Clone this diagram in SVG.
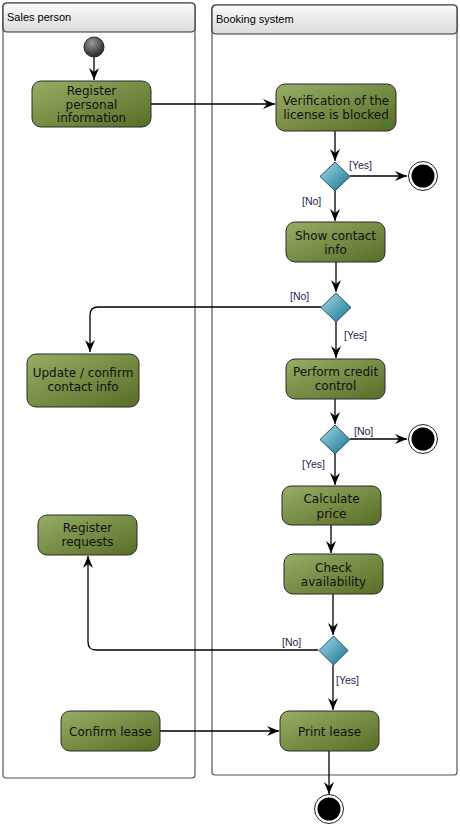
<svg xmlns="http://www.w3.org/2000/svg" width="460" height="826" viewBox="0 0 460 826">
<style>
.lane{fill:#fff;stroke:#555;stroke-width:1.2}
.hdr{fill:url(#hg);stroke:#333;stroke-width:1.2}
.ttl{font-family:"Liberation Sans",Arial,sans-serif;font-size:11px;fill:#000}
.act{fill:url(#ag);stroke:#2a2a2a;stroke-width:1}
.at{font-family:"DejaVu Sans",Verdana,sans-serif;font-size:12px;fill:#111;text-anchor:middle}
.dec{fill:url(#dg);stroke:#1d4f60;stroke-width:1}
.lbl{font-family:"Liberation Sans",Arial,sans-serif;font-size:10.5px;fill:#1c1c50}
.ln{fill:none;stroke:#000;stroke-width:1.3}
</style>
<defs>
<linearGradient id="hg" x1="0" y1="0" x2="0" y2="1"><stop offset="0" stop-color="#fbfbfb"/><stop offset="1" stop-color="#dcdcdc"/></linearGradient>
<linearGradient id="ag" x1="0" y1="0" x2="1" y2="1"><stop offset="0" stop-color="#97ae66"/><stop offset="1" stop-color="#586c26"/></linearGradient>
<linearGradient id="dg" x1="0" y1="0" x2="1" y2="1"><stop offset="0" stop-color="#a4dcea"/><stop offset="1" stop-color="#17718c"/></linearGradient>
<radialGradient id="ig" cx="0.4" cy="0.3" r="0.75"><stop offset="0" stop-color="#9a9a9a"/><stop offset="1" stop-color="#1e1e1e"/></radialGradient>
<marker id="ar" viewBox="0 0 12 10" refX="12" refY="5" markerWidth="12" markerHeight="10" markerUnits="userSpaceOnUse" orient="auto">
<path d="M0,0 L12,5 L0,10 L4,5 Z" fill="#000"/>
</marker>
</defs>

<g id="lane-sales">
<rect class="lane" x="3" y="3" width="192" height="775" rx="3"/>
<rect class="hdr" x="3" y="3" width="192" height="29" rx="4"/>
<text class="ttl" x="7" y="21">Sales person</text>
</g>
<g id="lane-booking">
<rect class="lane" x="212" y="5" width="245" height="770" rx="3"/>
<rect class="hdr" x="212" y="5" width="245" height="29" rx="4"/>
<text class="ttl" x="216" y="23">Booking system</text>
</g>

<g id="connectors">
<path class="ln" d="M94,57 V80" marker-end="url(#ar)"/>
<path class="ln" d="M151,104 H275" marker-end="url(#ar)"/>
<path class="ln" d="M335,131 V161" marker-end="url(#ar)"/>
<path class="ln" d="M350,176 H407" marker-end="url(#ar)"/>
<path class="ln" d="M335,191 V221" marker-end="url(#ar)"/>
<path class="ln" d="M336,262 V292" marker-end="url(#ar)"/>
<path class="ln" d="M321,307 H98 Q90,307 90,315 V352" marker-end="url(#ar)"/>
<path class="ln" d="M336,322 V358" marker-end="url(#ar)"/>
<path class="ln" d="M335,399 V424" marker-end="url(#ar)"/>
<path class="ln" d="M350,439 H407" marker-end="url(#ar)"/>
<path class="ln" d="M335,454 V485" marker-end="url(#ar)"/>
<path class="ln" d="M331,525 V553" marker-end="url(#ar)"/>
<path class="ln" d="M333,594 V635" marker-end="url(#ar)"/>
<path class="ln" d="M318,650 H96 Q88,650 88,642 V556" marker-end="url(#ar)"/>
<path class="ln" d="M333,665 V710" marker-end="url(#ar)"/>
<path class="ln" d="M160,731 H279" marker-end="url(#ar)"/>
<path class="ln" d="M329,751 V794" marker-end="url(#ar)"/>
<text class="lbl" x="349" y="169">[Yes]</text>
<text class="lbl" x="302" y="205">[No]</text>
<text class="lbl" x="290" y="300">[No]</text>
<text class="lbl" x="344" y="339">[Yes]</text>
<text class="lbl" x="354" y="435">[No]</text>
<text class="lbl" x="302" y="468">[Yes]</text>
<text class="lbl" x="282" y="646">[No]</text>
<text class="lbl" x="336" y="684">[Yes]</text>
</g>

<g id="start"><circle cx="94" cy="47" r="10" fill="url(#ig)" stroke="#222" stroke-width="1"/></g>

<g id="register-personal">
<rect class="act" x="32" y="81" width="119" height="46" rx="9"/>
<text class="at" x="91.5" y="95">Register</text>
<text class="at" x="91.5" y="108.5">personal</text>
<text class="at" x="91.5" y="122">information</text>
</g>
<g id="verification">
<rect class="act" x="276" y="84" width="120" height="47" rx="9"/>
<text class="at" x="336" y="104.5">Verification of the</text>
<text class="at" x="336" y="118.5">license is blocked</text>
<path d="M386,117 V127 M382,123 L386,127 L390,123" fill="none" stroke="#1e8a1e" stroke-width="1"/>
</g>
<g id="decision-1"><path class="dec" d="M335,162 L350,176.5 L335,191 L320,176.5 Z"/></g>
<g id="final-1"><circle cx="423" cy="176" r="14.5" fill="#fff" stroke="#222" stroke-width="1"/><circle cx="423" cy="176" r="11.5" fill="#000"/></g>
<g id="show-contact">
<rect class="act" x="286" y="222" width="99" height="40" rx="9"/>
<text class="at" x="335.5" y="240">Show contact</text>
<text class="at" x="335.5" y="254">info</text>
</g>
<g id="decision-2"><path class="dec" d="M336,293 L351,307.5 L336,322 L321,307.5 Z"/></g>
<g id="update-contact">
<rect class="act" x="27" y="354" width="112" height="53" rx="9"/>
<text class="at" x="83" y="377">Update / confirm</text>
<text class="at" x="83" y="391">contact info</text>
</g>
<g id="credit-control">
<rect class="act" x="286" y="359" width="99" height="40" rx="9"/>
<text class="at" x="335.5" y="376">Perform credit</text>
<text class="at" x="335.5" y="390">control</text>
</g>
<g id="decision-3"><path class="dec" d="M335,425 L350,439.5 L335,454 L320,439.5 Z"/></g>
<g id="final-2"><circle cx="423" cy="439" r="14.5" fill="#fff" stroke="#222" stroke-width="1"/><circle cx="423" cy="439" r="11.5" fill="#000"/></g>
<g id="calculate-price">
<rect class="act" x="282" y="486" width="99" height="39" rx="9"/>
<text class="at" x="331.5" y="503">Calculate</text>
<text class="at" x="331.5" y="518">price</text>
</g>
<g id="check-availability">
<rect class="act" x="284" y="554" width="99" height="40" rx="9"/>
<text class="at" x="333.5" y="572">Check</text>
<text class="at" x="333.5" y="586">availability</text>
</g>
<g id="decision-4"><path class="dec" d="M333.5,636 L348,650.5 L333.5,665 L319,650.5 Z"/></g>
<g id="register-requests">
<rect class="act" x="38" y="515" width="99" height="40" rx="9"/>
<text class="at" x="87.5" y="532">Register</text>
<text class="at" x="87.5" y="546">requests</text>
</g>
<g id="confirm-lease">
<rect class="act" x="61" y="711" width="99" height="40" rx="9"/>
<text class="at" x="110.5" y="735.5">Confirm lease</text>
</g>
<g id="print-lease">
<rect class="act" x="280" y="711" width="99" height="40" rx="9"/>
<text class="at" x="329.5" y="735.5">Print lease</text>
</g>
<g id="final-3"><circle cx="329" cy="809" r="14.5" fill="#fff" stroke="#222" stroke-width="1"/><circle cx="329" cy="809" r="11.5" fill="#000"/></g>
</svg>
